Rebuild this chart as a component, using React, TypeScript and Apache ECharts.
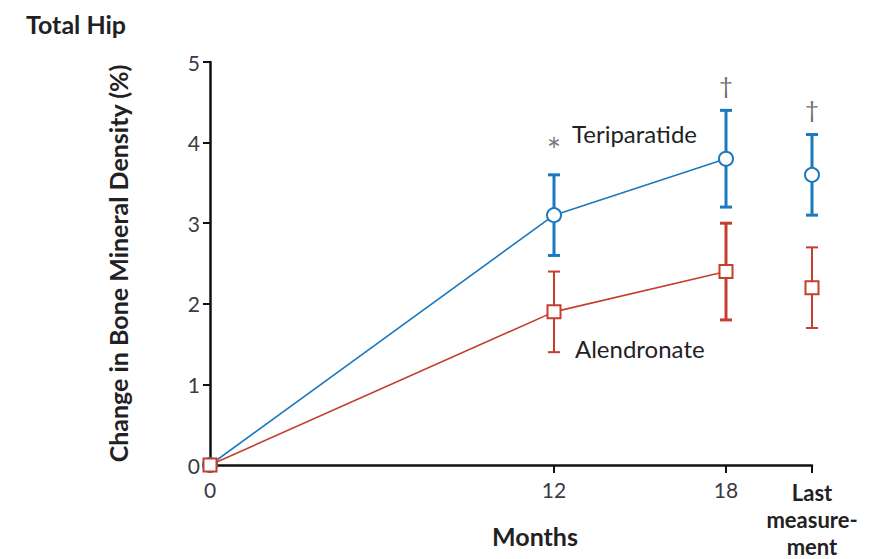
import React, { useEffect, useRef } from "react";
import * as echarts from "echarts";

// Months of follow-up; the last measurement is placed at 21 on the month scale
const months = [0, 12, 18];
const lastMonth = 21;
const xTickValues = [0, 12, 18, 21];
const yTickValues = [0, 1, 2, 3, 4, 5];

// Mean percent change in bone mineral density, with error-bar bounds
const teriMean = [0, 3.1, 3.8];
const teriLow = [0, 2.6, 3.2];
const teriHigh = [0, 3.6, 4.4];
const teriLast = [3.6, 3.1, 4.1]; // mean, low, high

const alenMean = [0, 1.9, 2.4];
const alenLow = [0, 1.4, 1.8];
const alenHigh = [0, 2.4, 3.0];
const alenLast = [2.2, 1.7, 2.7]; // mean, low, high

// Significance markers shown above the teriparatide bars
const sigMonths = [12, 18, 21];
const sigMarks = ["*", "\u2020", "\u2020"];

const BLUE = "#1b79bf";
const RED = "#c63e2e";
const TEXT = "#231f24";
const FONT = "Lato, 'Open Sans', sans-serif";

// stroke weights of the error bars at 12, 18 and last
const teriBarWeights = [3, 3, 3];
const alenBarWeights = [2, 3, 2];

export default function App() {
  const ref = useRef<HTMLDivElement>(null);

  useEffect(() => {
    if (!ref.current) return;
    const chart = echarts.init(ref.current, null, { renderer: "svg" });

    const teriBars = [
      ...months.slice(1).map((m, i) => [m, teriLow[i + 1], teriHigh[i + 1], teriBarWeights[i]]),
      [lastMonth, teriLast[1], teriLast[2], teriBarWeights[2]],
    ];
    const alenBars = [
      ...months.slice(1).map((m, i) => [m, alenLow[i + 1], alenHigh[i + 1], alenBarWeights[i]]),
      [lastMonth, alenLast[1], alenLast[2], alenBarWeights[2]],
    ];

    const errorBar = (color: string) => (params: any, api: any) => {
      const x = api.value(0);
      const lo = api.coord([x, api.value(1)]);
      const hi = api.coord([x, api.value(2)]);
      const w = api.value(3);
      const half = 6;
      const style = { stroke: color, lineWidth: w, fill: "none" };
      return {
        type: "group",
        children: [
          { type: "line", shape: { x1: lo[0], y1: lo[1], x2: hi[0], y2: hi[1] }, style },
          { type: "line", shape: { x1: hi[0] - half, y1: hi[1], x2: hi[0] + half, y2: hi[1] }, style },
          { type: "line", shape: { x1: lo[0] - half, y1: lo[1], x2: lo[0] + half, y2: lo[1] }, style },
        ],
      };
    };

    const teriTops = [teriHigh[1], teriHigh[2], teriLast[2]];

    chart.setOption({
      animation: false,
      textStyle: { fontFamily: FONT },
      title: {
        text: "Total Hip",
        left: 21,
        top: 6,
        textStyle: { fontFamily: FONT, fontSize: 25, fontWeight: "bold", color: TEXT },
      },
      grid: {
        left: 210,
        top: 62,
        width: 602,
        height: 403,
        containLabel: false,
        outerBoundsMode: "none",
      },
      xAxis: {
        type: "value",
        min: 0,
        max: lastMonth,
        name: "Months",
        nameLocation: "middle",
        nameGap: 58,
        nameMoveOverlap: false,
        nameTextStyle: {
          fontFamily: FONT,
          fontSize: 25,
          fontWeight: "bold",
          color: TEXT,
          padding: [0, 0, 0, 48],
        },
        axisLine: { show: true, lineStyle: { color: "#111", width: 2.5 } },
        axisTick: {
          show: true,
          length: 8,
          customValues: xTickValues,
          lineStyle: { color: "#111", width: 2 },
        },
        splitLine: { show: false },
        axisLabel: {
          customValues: xTickValues,
          margin: 14,
          fontFamily: FONT,
          fontSize: 21,
          color: "#3a3a44",
          verticalAlign: "top",
          formatter: (v: number) =>
            v === lastMonth ? "{b|Last}\n{b|measure-}\n{b|ment}" : String(v),
          rich: {
            b: {
              fontFamily: FONT,
              fontSize: 22,
              fontWeight: "bold",
              color: TEXT,
              lineHeight: 27,
            },
          },
        },
      },
      yAxis: {
        type: "value",
        min: 0,
        max: 5,
        interval: 1,
        name: "Change in Bone Mineral Density (%)",
        nameLocation: "middle",
        nameRotate: 90,
        nameGap: 80,
        nameMoveOverlap: false,
        nameTextStyle: { fontFamily: FONT, fontSize: 25, fontWeight: "bold", color: TEXT },
        axisLine: { show: true, lineStyle: { color: "#111", width: 2.5 } },
        axisTick: { show: true, length: 7, lineStyle: { color: "#111", width: 2 } },
        splitLine: { show: false },
        axisLabel: {
          margin: 10,
          fontFamily: FONT,
          fontSize: 21,
          color: "#3a3a44",
          formatter: (v: number) => (yTickValues.includes(v) ? String(v) : ""),
        },
      },
      graphic: [
        {
          type: "text",
          left: 572,
          top: 121,
          style: { text: "Teriparatide", fontFamily: FONT, fontSize: 24, fill: TEXT },
        },
        {
          type: "text",
          left: 575,
          top: 336,
          style: { text: "Alendronate", fontFamily: FONT, fontSize: 24, fill: TEXT },
        },
      ],
      series: [
        {
          type: "custom",
          name: "teriBars",
          renderItem: errorBar(BLUE),
          data: teriBars,
          z: 2,
          silent: true,
        },
        {
          type: "custom",
          name: "alenBars",
          renderItem: errorBar(RED),
          data: alenBars,
          z: 2,
          silent: true,
        },
        {
          type: "line",
          name: "Teriparatide",
          data: months.map((m, i) => [m, teriMean[i]]),
          symbol: "circle",
          symbolSize: 14,
          showAllSymbol: true,
          lineStyle: { color: BLUE, width: 1.6 },
          itemStyle: { color: "#fff", borderColor: BLUE, borderWidth: 2 },
          z: 3,
        },
        {
          type: "scatter",
          name: "Teriparatide last",
          data: [[lastMonth, teriLast[0]]],
          symbol: "circle",
          symbolSize: 14,
          itemStyle: { color: "#fff", borderColor: BLUE, borderWidth: 2, opacity: 1 },
          z: 3,
        },
        {
          type: "line",
          name: "Alendronate",
          data: months.map((m, i) => [m, alenMean[i]]),
          symbol: "rect",
          symbolSize: 13,
          showAllSymbol: true,
          lineStyle: { color: RED, width: 1.6 },
          itemStyle: { color: "#fff", borderColor: RED, borderWidth: 2 },
          z: 4,
        },
        {
          type: "scatter",
          name: "Alendronate last",
          data: [[lastMonth, alenLast[0]]],
          symbol: "rect",
          symbolSize: 13,
          itemStyle: { color: "#fff", borderColor: RED, borderWidth: 2, opacity: 1 },
          z: 4,
        },
        {
          type: "scatter",
          name: "significance",
          data: sigMonths.map((m, i) => [m, teriTops[i], sigMarks[i]]),
          symbolSize: 0,
          silent: true,
          label: {
            show: true,
            position: "top",
            distance: 14,
            formatter: (p: any) =>
              p.value[2] === "*" ? "{a|*}" : "{d|" + p.value[2] + "}",
            rich: {
              a: { fontFamily: FONT, fontSize: 34, color: "#55555f", padding: [0, 0, -6, 0] },
              d: { fontFamily: FONT, fontSize: 24, color: "#4a4448" },
            },
          },
          z: 5,
        },
      ],
    });

    return () => chart.dispose();
  }, []);

  return (
    <div
      ref={ref}
      style={{ position: "fixed", left: 0, top: 0, width: 875, height: 559, background: "#fff" }}
    />
  );
}
